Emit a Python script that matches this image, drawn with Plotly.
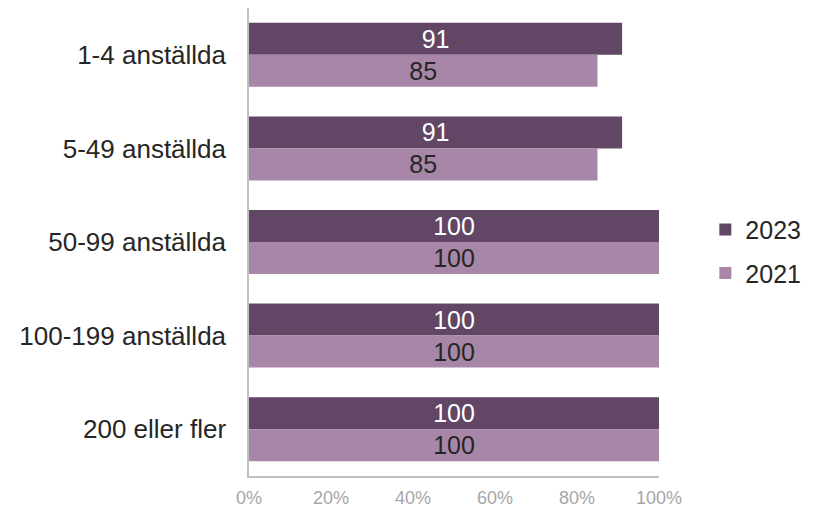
import plotly.graph_objects as go

categories = ["1-4 anställda", "5-49 anställda", "50-99 anställda", "100-199 anställda", "200 eller fler"]
values_2023 = [91, 91, 100, 100, 100]
values_2021 = [85, 85, 100, 100, 100]
tick_vals = [0, 20, 40, 60, 80, 100]
tick_text = ["0%", "20%", "40%", "60%", "80%", "100%"]

FONT = "Liberation Sans, Arial, sans-serif"

fig = go.Figure()
fig.add_trace(go.Bar(
    name="2023", y=categories, x=values_2023, orientation="h",
    marker=dict(color="#614665", line=dict(width=0)), text=[str(v) for v in values_2023],
    textposition="inside", insidetextanchor="middle", textangle=0,
    insidetextfont=dict(color="#FFFFFF", size=25, family=FONT),
    legendgroup="a", constraintext="none", hoverinfo="skip",
))
fig.add_trace(go.Bar(
    name="2021", y=categories, x=values_2021, orientation="h",
    marker=dict(color="#A886A8", line=dict(width=0)), text=[str(v) for v in values_2021],
    textposition="inside", insidetextanchor="middle", textangle=0,
    insidetextfont=dict(color="#262626", size=25, family=FONT),
    legendgroup="b", constraintext="none", hoverinfo="skip",
))

fig.update_layout(
    width=813, height=499,
    margin=dict(l=241, r=162, t=0, b=31, pad=0),
    plot_bgcolor="white", paper_bgcolor="white",
    barmode="group", bargap=0.316, bargroupgap=0,
    font=dict(family=FONT, size=25, color="#262626"),
    showlegend=True,
    legend=dict(x=1.113, xanchor="left", y=0.48, yanchor="middle",
                traceorder="grouped", tracegroupgap=8,
                font=dict(size=25, color="#262626"), itemwidth=30),
    xaxis=dict(range=[0, 100], tickvals=tick_vals, ticktext=tick_text,
               showgrid=False, zeroline=False, showline=True, linecolor="#BFBFBF",
               linewidth=1.5, ticks="", tickfont=dict(size=18, color="#A6A6A6"),
               ticklabelstandoff=5, fixedrange=True),
    yaxis=dict(autorange="reversed", showgrid=False, zeroline=False, showline=True,
               linecolor="#BFBFBF", linewidth=1.5, ticks="",
               tickfont=dict(size=26, color="#262626"), ticklabelstandoff=16),
)

fig.write_html("out.html")
